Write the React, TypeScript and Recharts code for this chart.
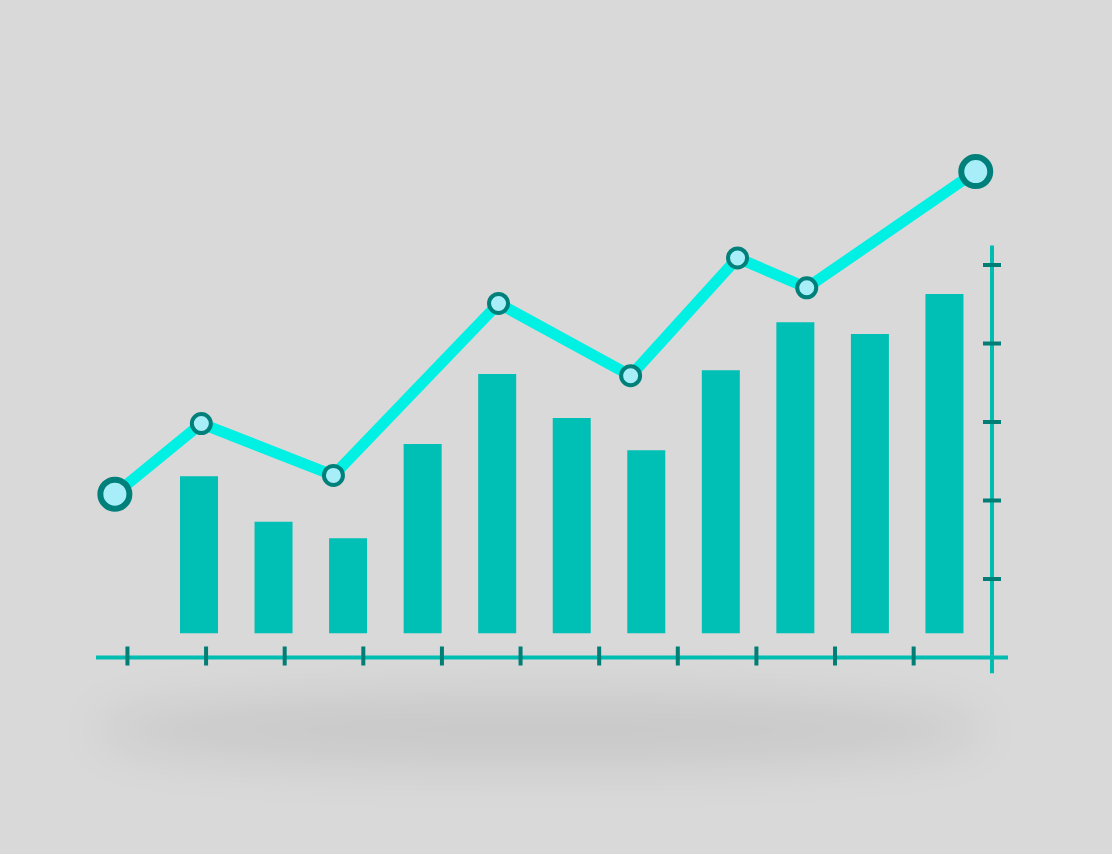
import React from 'react';
import { ComposedChart, Bar, Line, XAxis, YAxis } from 'recharts';

// ---- data ----
const CATEGORIES = ['1', '2', '3', '4', '5', '6', '7', '8', '9', '10', '11'];
const BAR_VALUES = [23.1, 17.3, 15.2, 27.2, 36.1, 30.5, 26.4, 36.6, 42.7, 41.2, 46.3];
const BAR_BASE = 3.1;

const LINE_X = [0.84, 1.94, 3.62, 5.72, 7.4, 8.76, 9.64, 11.79];
const LINE_Y = [20.8, 29.8, 23.2, 45.1, 35.9, 50.9, 47.1, 61.9];

const X_TICKS = [1, 2, 3, 4, 5, 6, 7, 8, 9, 10, 11];
const Y_TICKS = [10, 20, 30, 40, 50];

// ---- layout ----
const W = 1112;
const H = 854;
const ZERO_PX = 657.5; // pixel row of value 0
const PX_PER_UNIT = 7.85;

const BAR_DOMAIN: [number, number] = [-2, 52.5];
const LINE_DOMAIN: [number, number] = [0, 70];
const X_DOMAIN: [number, number] = [0.6, 12.2];

const COLORS = {
  bg: '#d9d9d9',
  bar: '#00bfb4',
  axis: '#00bdb2',
  tick: '#007d74',
  line: '#00f0e4',
  dotStroke: '#00807a',
  dotFill: '#a8eef8',
};

const barData = CATEGORIES.map((name, i) => ({ name, range: [BAR_BASE, BAR_VALUES[i]] }));
const lineData = LINE_X.map((x, i) => ({ x, y: LINE_Y[i] }));

const topFor = (max: number) => ZERO_PX - PX_PER_UNIT * max;
const bottomFor = (min: number) => ZERO_PX - PX_PER_UNIT * min;

const XTick = (props: any) => {
  const { x, y } = props;
  return <line x1={x} x2={x} y1={y - 11} y2={y + 8} stroke={COLORS.tick} strokeWidth={4} />;
};

const YTick = (props: any) => {
  const { x, y } = props;
  return <line x1={x - 9} x2={x + 9} y1={y} y2={y} stroke={COLORS.tick} strokeWidth={4} />;
};

const Dot = (props: any) => {
  const { cx, cy, index } = props;
  const big = index === 0 || index === LINE_X.length - 1;
  return (
    <circle
      key={`dot-${index}`}
      cx={cx}
      cy={cy}
      r={big ? 14.5 : 9.5}
      fill={COLORS.dotFill}
      stroke={COLORS.dotStroke}
      strokeWidth={big ? 6 : 4}
    />
  );
};

export default function App() {
  const barTop = topFor(BAR_DOMAIN[1]);
  const barBottom = bottomFor(BAR_DOMAIN[0]);
  const lineTop = topFor(LINE_DOMAIN[1]);
  const xAxisHeight = 10;

  return (
    <div
      style={{
        position: 'fixed',
        left: 0,
        top: 0,
        width: W,
        height: H,
        background: COLORS.bg,
        overflow: 'hidden',
      }}
    >
      {/* floor shadow */}
      <div
        style={{
          position: 'absolute',
          left: 95,
          top: 694,
          width: 890,
          height: 72,
          borderRadius: '50%',
          background: 'rgba(0,0,0,0.075)',
          filter: 'blur(24px)',
        }}
      />

      {/* bars + vertical axis */}
      <div style={{ position: 'absolute', left: 0, top: 0 }}>
        <ComposedChart
          width={W}
          height={H}
          data={barData}
          margin={{ top: barTop, bottom: H - barBottom, left: 162, right: 100 }}
        >
          <XAxis dataKey="name" type="category" hide padding={{ left: 0, right: 10 }} />
          <YAxis
            orientation="right"
            type="number"
            width={20}
            domain={BAR_DOMAIN}
            ticks={Y_TICKS}
            axisLine={{ stroke: COLORS.axis, strokeWidth: 4 }}
            tickLine={false}
            tickSize={0}
            tickMargin={0}
            tick={YTick}
          />
          <Bar dataKey="range" fill={COLORS.bar} barSize={38} isAnimationActive={false} />
        </ComposedChart>
      </div>

      {/* line + horizontal axis */}
      <div style={{ position: 'absolute', left: 0, top: 0 }}>
        <ComposedChart
          width={W}
          height={H}
          data={lineData}
          margin={{ top: lineTop, bottom: H - ZERO_PX - xAxisHeight, left: 96, right: 104 }}
        >
          <XAxis
            dataKey="x"
            type="number"
            domain={X_DOMAIN}
            ticks={X_TICKS}
            height={xAxisHeight}
            axisLine={{ stroke: COLORS.axis, strokeWidth: 4 }}
            tickLine={false}
            tickSize={0}
            tickMargin={0}
            tick={XTick}
            interval={0}
          />
          <YAxis type="number" hide domain={LINE_DOMAIN} />
          <Line
            dataKey="y"
            stroke={COLORS.line}
            strokeWidth={11}
            strokeLinejoin="round"
            dot={Dot}
            activeDot={false}
            isAnimationActive={false}
          />
        </ComposedChart>
      </div>
    </div>
  );
}
